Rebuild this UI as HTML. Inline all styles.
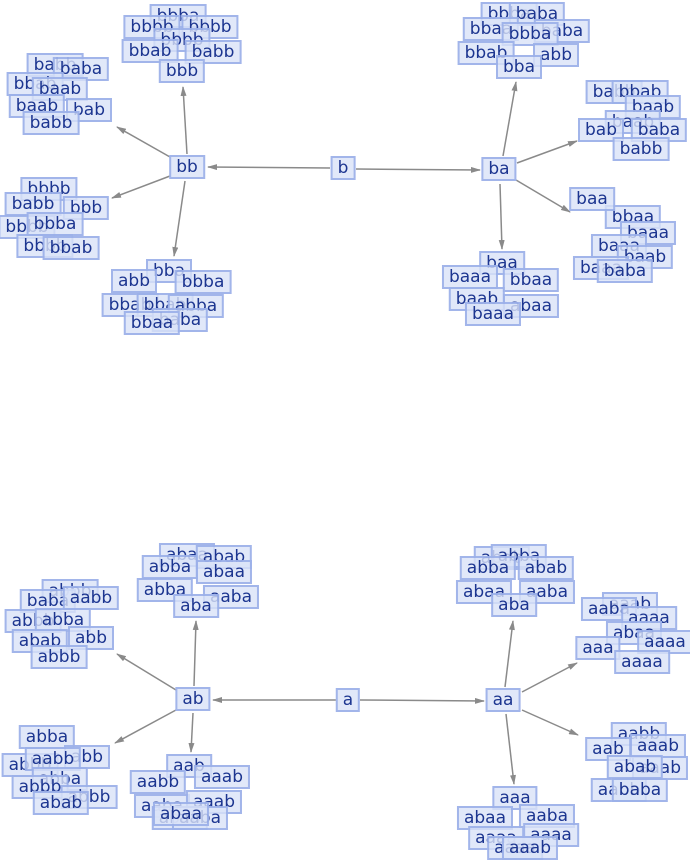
<!DOCTYPE html>
<html><head><meta charset="utf-8"><style>
body{margin:0;background:#fff;width:690px;height:864px;position:relative;overflow:hidden;font-family:"DejaVu Sans","Liberation Sans",sans-serif;}
.n{position:absolute;transform:translate(-50%,-50%);background:rgba(218,226,248,0.8);border:2px solid rgba(135,160,228,0.7);color:#1c3590;font-size:17px;line-height:20px;padding:0 5px;white-space:nowrap;}
svg{position:absolute;left:0;top:0;}
</style></head><body>
<svg width="690" height="864">
<defs><marker id="a" markerWidth="10" markerHeight="6" refX="9" refY="3" orient="auto" markerUnits="userSpaceOnUse"><path d="M0,0 L10,3 L0,6 z" fill="#8a8a8a"/></marker></defs>
<g stroke="#8a8a8a" stroke-width="1.5" marker-end="url(#a)">
<line x1="330" y1="168" x2="208" y2="167"/>
<line x1="356" y1="169" x2="480" y2="170"/>
<line x1="187" y1="154" x2="183" y2="87"/>
<line x1="170" y1="157" x2="117" y2="127"/>
<line x1="170" y1="176" x2="112" y2="198"/>
<line x1="185" y1="181" x2="174" y2="256"/>
<line x1="503" y1="156" x2="516" y2="82"/>
<line x1="517" y1="163" x2="577" y2="141"/>
<line x1="516" y1="180" x2="570" y2="212"/>
<line x1="500" y1="184" x2="502" y2="249"/>
<line x1="336" y1="700" x2="213" y2="700"/>
<line x1="360" y1="700" x2="484" y2="701"/>
<line x1="194" y1="686" x2="196" y2="621"/>
<line x1="176" y1="690" x2="117" y2="654"/>
<line x1="176" y1="710" x2="115" y2="743"/>
<line x1="193" y1="713" x2="191" y2="752"/>
<line x1="505" y1="687" x2="513" y2="621"/>
<line x1="522" y1="692" x2="577" y2="663"/>
<line x1="522" y1="710" x2="578" y2="735"/>
<line x1="506" y1="714" x2="514" y2="784"/>
</g>
</svg>
<!-- top -->
<div class="n" style="left:343px;top:168px">b</div>
<div class="n" style="left:187px;top:167px">bb</div>
<div class="n" style="left:499px;top:169px">ba</div>
<div class="n" style="left:178px;top:16px">bbba</div>
<div class="n" style="left:152px;top:27px">bbbb</div>
<div class="n" style="left:210px;top:27px">bbbb</div>
<div class="n" style="left:182px;top:40px">bbbb</div>
<div class="n" style="left:150px;top:51px">bbab</div>
<div class="n" style="left:213px;top:52px">babb</div>
<div class="n" style="left:182px;top:71px">bbb</div>
<div class="n" style="left:55px;top:65px">babb</div>
<div class="n" style="left:81px;top:69px">baba</div>
<div class="n" style="left:35px;top:84px">bbab</div>
<div class="n" style="left:60px;top:89px">baab</div>
<div class="n" style="left:89px;top:110px">bab</div>
<div class="n" style="left:37px;top:106px">baab</div>
<div class="n" style="left:51px;top:123px">babb</div>
<div class="n" style="left:49px;top:189px">bbbb</div>
<div class="n" style="left:33px;top:204px">babb</div>
<div class="n" style="left:86px;top:208px">bbb</div>
<div class="n" style="left:27px;top:227px">bbbb</div>
<div class="n" style="left:55px;top:224px">bbba</div>
<div class="n" style="left:45px;top:246px">bbbb</div>
<div class="n" style="left:71px;top:248px">bbab</div>
<div class="n" style="left:169px;top:271px">bba</div>
<div class="n" style="left:134px;top:281px">abb</div>
<div class="n" style="left:203px;top:282px">bbba</div>
<div class="n" style="left:130px;top:305px">bbab</div>
<div class="n" style="left:165px;top:305px">bbab</div>
<div class="n" style="left:196px;top:306px">abba</div>
<div class="n" style="left:180px;top:320px">baba</div>
<div class="n" style="left:152px;top:323px">bbaa</div>
<div class="n" style="left:509px;top:14px">bbba</div>
<div class="n" style="left:537px;top:14px">baba</div>
<div class="n" style="left:491px;top:29px">bbaa</div>
<div class="n" style="left:562px;top:31px">baba</div>
<div class="n" style="left:530px;top:34px">bbba</div>
<div class="n" style="left:486px;top:53px">bbab</div>
<div class="n" style="left:556px;top:55px">abb</div>
<div class="n" style="left:519px;top:67px">bba</div>
<div class="n" style="left:614px;top:92px">babb</div>
<div class="n" style="left:640px;top:92px">bbab</div>
<div class="n" style="left:653px;top:107px">baab</div>
<div class="n" style="left:633px;top:122px">baab</div>
<div class="n" style="left:601px;top:130px">bab</div>
<div class="n" style="left:659px;top:130px">baba</div>
<div class="n" style="left:641px;top:149px">babb</div>
<div class="n" style="left:633px;top:217px">bbaa</div>
<div class="n" style="left:592px;top:199px">baa</div>
<div class="n" style="left:648px;top:233px">baaa</div>
<div class="n" style="left:619px;top:246px">baaa</div>
<div class="n" style="left:645px;top:257px">baab</div>
<div class="n" style="left:601px;top:268px">baaa</div>
<div class="n" style="left:625px;top:271px">baba</div>
<div class="n" style="left:502px;top:263px">baa</div>
<div class="n" style="left:470px;top:277px">baaa</div>
<div class="n" style="left:531px;top:280px">bbaa</div>
<div class="n" style="left:477px;top:299px">baab</div>
<div class="n" style="left:531px;top:306px">abaa</div>
<div class="n" style="left:493px;top:314px">baaa</div>
<!-- bottom -->
<div class="n" style="left:348px;top:700px">a</div>
<div class="n" style="left:193px;top:699px">ab</div>
<div class="n" style="left:503px;top:700px">aa</div>
<div class="n" style="left:187px;top:555px">abaa</div>
<div class="n" style="left:224px;top:557px">abab</div>
<div class="n" style="left:170px;top:567px">abba</div>
<div class="n" style="left:224px;top:572px">abaa</div>
<div class="n" style="left:165px;top:590px">abba</div>
<div class="n" style="left:231px;top:597px">aaba</div>
<div class="n" style="left:196px;top:606px">aba</div>
<div class="n" style="left:70px;top:591px">abbb</div>
<div class="n" style="left:48px;top:601px">baba</div>
<div class="n" style="left:91px;top:598px">aabb</div>
<div class="n" style="left:33px;top:621px">abbb</div>
<div class="n" style="left:63px;top:620px">abba</div>
<div class="n" style="left:91px;top:638px">abb</div>
<div class="n" style="left:40px;top:641px">abab</div>
<div class="n" style="left:59px;top:657px">abbb</div>
<div class="n" style="left:47px;top:737px">abba</div>
<div class="n" style="left:30px;top:765px">abbb</div>
<div class="n" style="left:87px;top:757px">abb</div>
<div class="n" style="left:53px;top:759px">aabb</div>
<div class="n" style="left:60px;top:779px">abba</div>
<div class="n" style="left:40px;top:787px">abbb</div>
<div class="n" style="left:89px;top:797px">abbb</div>
<div class="n" style="left:61px;top:803px">abab</div>
<div class="n" style="left:189px;top:766px">aab</div>
<div class="n" style="left:158px;top:782px">aabb</div>
<div class="n" style="left:222px;top:777px">aaab</div>
<div class="n" style="left:162px;top:806px">aaba</div>
<div class="n" style="left:214px;top:802px">aaab</div>
<div class="n" style="left:180px;top:818px">abab</div>
<div class="n" style="left:200px;top:818px">aaba</div>
<div class="n" style="left:181px;top:814px">abaa</div>
<div class="n" style="left:502px;top:558px">abab</div>
<div class="n" style="left:519px;top:556px">abba</div>
<div class="n" style="left:488px;top:568px">abba</div>
<div class="n" style="left:546px;top:568px">abab</div>
<div class="n" style="left:484px;top:592px">abaa</div>
<div class="n" style="left:547px;top:592px">aaba</div>
<div class="n" style="left:514px;top:605px">aba</div>
<div class="n" style="left:630px;top:604px">aaab</div>
<div class="n" style="left:609px;top:609px">aaba</div>
<div class="n" style="left:649px;top:618px">aaaa</div>
<div class="n" style="left:634px;top:633px">abaa</div>
<div class="n" style="left:665px;top:642px">aaaa</div>
<div class="n" style="left:598px;top:648px">aaa</div>
<div class="n" style="left:642px;top:662px">aaaa</div>
<div class="n" style="left:639px;top:734px">aabb</div>
<div class="n" style="left:608px;top:749px">aab</div>
<div class="n" style="left:658px;top:746px">aaab</div>
<div class="n" style="left:660px;top:768px">aaab</div>
<div class="n" style="left:635px;top:767px">abab</div>
<div class="n" style="left:619px;top:790px">aabb</div>
<div class="n" style="left:640px;top:790px">baba</div>
<div class="n" style="left:515px;top:798px">aaa</div>
<div class="n" style="left:485px;top:818px">abaa</div>
<div class="n" style="left:547px;top:816px">aaba</div>
<div class="n" style="left:496px;top:838px">aaaa</div>
<div class="n" style="left:551px;top:835px">aaaa</div>
<div class="n" style="left:515px;top:848px">aaaa</div>
<div class="n" style="left:530px;top:848px">aaab</div>
</body></html>
